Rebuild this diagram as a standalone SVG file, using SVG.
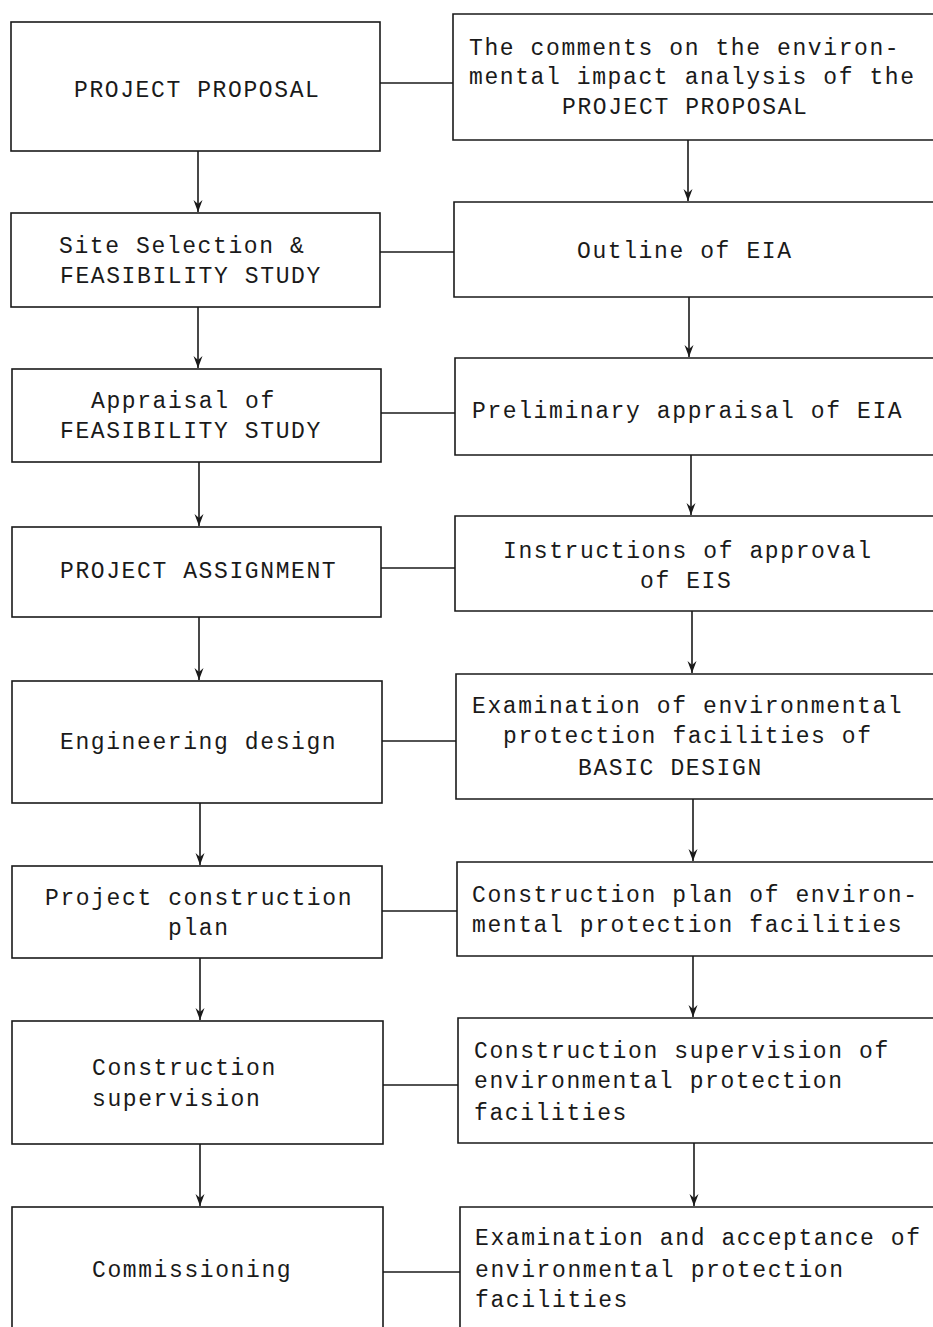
<svg xmlns="http://www.w3.org/2000/svg" width="933" height="1327" viewBox="0 0 933 1327">
<style>
.box{fill:none;stroke:#1a1a1a;stroke-width:1.6}
.ln{fill:none;stroke:#1a1a1a;stroke-width:1.6}
text{font-family:"Liberation Mono","Courier New",monospace;font-size:23px;letter-spacing:1.6px;fill:#1a1a1a}
</style>
<defs>
<marker id="ah" viewBox="0 0 12 10" refX="12" refY="5" markerWidth="12" markerHeight="10" markerUnits="userSpaceOnUse" orient="auto">
<path d="M0,0.5 L12,5 L0,9.5 L4,5 Z" fill="#1a1a1a"/>
</marker>
</defs>
<rect width="933" height="1327" fill="#ffffff"/>
<g id="connectors">
<line class="ln" x1="198" y1="151" x2="198" y2="212" marker-end="url(#ah)"/>
<line class="ln" x1="198" y1="307" x2="198" y2="368" marker-end="url(#ah)"/>
<line class="ln" x1="199" y1="462" x2="199" y2="526" marker-end="url(#ah)"/>
<line class="ln" x1="199" y1="617" x2="199" y2="680" marker-end="url(#ah)"/>
<line class="ln" x1="200" y1="803" x2="200" y2="865" marker-end="url(#ah)"/>
<line class="ln" x1="200" y1="958" x2="200" y2="1020" marker-end="url(#ah)"/>
<line class="ln" x1="200" y1="1144" x2="200" y2="1206" marker-end="url(#ah)"/>
<line class="ln" x1="688" y1="140" x2="688" y2="201" marker-end="url(#ah)"/>
<line class="ln" x1="689" y1="297" x2="689" y2="357" marker-end="url(#ah)"/>
<line class="ln" x1="691" y1="455" x2="691" y2="515" marker-end="url(#ah)"/>
<line class="ln" x1="692" y1="611" x2="692" y2="673" marker-end="url(#ah)"/>
<line class="ln" x1="693" y1="799" x2="693" y2="861" marker-end="url(#ah)"/>
<line class="ln" x1="693" y1="956" x2="693" y2="1017" marker-end="url(#ah)"/>
<line class="ln" x1="694" y1="1143" x2="694" y2="1206" marker-end="url(#ah)"/>
<line class="ln" x1="380" y1="83" x2="453" y2="83"/>
<line class="ln" x1="380" y1="252" x2="454" y2="252"/>
<line class="ln" x1="381" y1="413" x2="455" y2="413"/>
<line class="ln" x1="381" y1="568" x2="455" y2="568"/>
<line class="ln" x1="382" y1="741" x2="456" y2="741"/>
<line class="ln" x1="382" y1="911" x2="457" y2="911"/>
<line class="ln" x1="383" y1="1085" x2="458" y2="1085"/>
<line class="ln" x1="383" y1="1272" x2="460" y2="1272"/>
</g>
<g id="n1">
<rect class="box" x="11" y="22" width="369" height="129"/>
<text x="74" y="97">PROJECT PROPOSAL</text>
</g>
<g id="n2">
<rect class="box" x="11" y="213" width="369" height="94"/>
<text x="59" y="253">Site Selection &amp;</text>
<text x="60" y="283">FEASIBILITY STUDY</text>
</g>
<g id="n3">
<rect class="box" x="12" y="369" width="369" height="93"/>
<text x="91" y="408">Appraisal of</text>
<text x="60" y="438">FEASIBILITY STUDY</text>
</g>
<g id="n4">
<rect class="box" x="12" y="527" width="369" height="90"/>
<text x="60" y="578">PROJECT ASSIGNMENT</text>
</g>
<g id="n5">
<rect class="box" x="12" y="681" width="370" height="122"/>
<text x="60" y="749">Engineering design</text>
</g>
<g id="n6">
<rect class="box" x="12" y="866" width="370" height="92"/>
<text x="45" y="905">Project construction</text>
<text x="168" y="935">plan</text>
</g>
<g id="n7">
<rect class="box" x="12" y="1021" width="371" height="123"/>
<text x="92" y="1075">Construction</text>
<text x="92" y="1106">supervision</text>
</g>
<g id="n8">
<rect class="box" x="12" y="1207" width="371" height="140"/>
<text x="92" y="1277">Commissioning</text>
</g>
<g id="r1">
<path class="box" d="M940,14 H453 V140 H940"/>
<text x="469" y="55">The comments on the environ-</text>
<text x="469" y="84">mental impact analysis of the</text>
<text x="562" y="114">PROJECT PROPOSAL</text>
</g>
<g id="r2">
<path class="box" d="M940,202 H454 V297 H940"/>
<text x="577" y="258">Outline of EIA</text>
</g>
<g id="r3">
<path class="box" d="M940,358 H455 V455 H940"/>
<text x="472" y="418">Preliminary appraisal of EIA</text>
</g>
<g id="r4">
<path class="box" d="M940,516 H455 V611 H940"/>
<text x="503" y="558">Instructions of approval</text>
<text x="640" y="588">of EIS</text>
</g>
<g id="r5">
<path class="box" d="M940,674 H456 V799 H940"/>
<text x="472" y="713">Examination of environmental</text>
<text x="503" y="743">protection facilities of</text>
<text x="578" y="775">BASIC DESIGN</text>
</g>
<g id="r6">
<path class="box" d="M940,862 H457 V956 H940"/>
<text x="472" y="902">Construction plan of environ-</text>
<text x="472" y="932">mental protection facilities</text>
</g>
<g id="r7">
<path class="box" d="M940,1018 H458 V1143 H940"/>
<text x="474" y="1058">Construction supervision of</text>
<text x="474" y="1088">environmental protection</text>
<text x="474" y="1120">facilities</text>
</g>
<g id="r8">
<path class="box" d="M940,1207 H460 V1340"/>
<text x="475" y="1245">Examination and acceptance of</text>
<text x="475" y="1277">environmental protection</text>
<text x="475" y="1307">facilities</text>
</g>
</svg>
